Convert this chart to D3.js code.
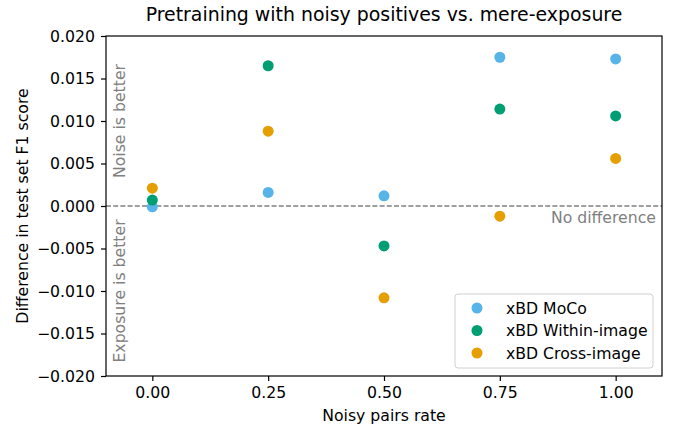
<!DOCTYPE html>
<html>
<head>
<meta charset="utf-8">
<script src="https://cdn.jsdelivr.net/npm/d3@7"></script>
<style>
  body { margin: 0; background: #fff; }
  text { font-family: "DejaVu Sans", sans-serif; }
</style>
</head>
<body>
<script>
const width = 677;
const height = 428;
const margin = {top: 36, right: 15, bottom: 52, left: 106};
const fs = "15.7px";

const rates = [0.0, 0.25, 0.5, 0.75, 1.0];
const seriesNames = ['xBD MoCo', 'xBD Within-image', 'xBD Cross-image'];
const colors = ['#56B4E9', '#009E73', '#E69F00'];
const mocoVals = [-0.0001, 0.0016, 0.0012, 0.0175, 0.0173];
const withinVals = [0.0007, 0.0165, -0.0047, 0.0114, 0.0106];
const crossVals = [0.0021, 0.0088, -0.0108, -0.0012, 0.0056];
const xTicks = [0.0, 0.25, 0.5, 0.75, 1.0];
const yTicks = [-0.020, -0.015, -0.010, -0.005, 0.000, 0.005, 0.010, 0.015, 0.020];

const allSeries = [mocoVals, withinVals, crossVals];

const x = d3.scaleLinear()
    .domain([-0.1, 1.1])
    .range([margin.left, width - margin.right]);

const y = d3.scaleLinear()
    .domain([-0.02, 0.02])
    .range([height - margin.bottom, margin.top]);

const svg = d3.select("body")
    .append("svg")
    .attr("width", width)
    .attr("height", height);

// zero line
svg.append("line")
    .attr("x1", x.range()[0])
    .attr("x2", x.range()[1])
    .attr("y1", y(0))
    .attr("y2", y(0))
    .style("stroke", "#808080")
    .style("stroke-width", 1.3)
    .style("stroke-dasharray", "5,2.2");

// points
allSeries.forEach((vals, i) => {
    svg.append("g")
        .selectAll("circle")
        .data(vals)
        .enter()
        .append("circle")
        .attr("cx", (d, j) => x(rates[j]))
        .attr("cy", d => y(d))
        .attr("r", 5.5)
        .style("fill", colors[i]);
});

// annotations
svg.append("text")
    .attr("transform", `translate(125,${y(0.01)}) rotate(-90)`)
    .attr("text-anchor", "middle")
    .style("font-size", fs)
    .style("fill", "#808080")
    .text("Noise is better");

svg.append("text")
    .attr("transform", `translate(125,${y(-0.01)}) rotate(-90)`)
    .attr("text-anchor", "middle")
    .style("font-size", fs)
    .style("fill", "#808080")
    .text("Exposure is better");

svg.append("text")
    .attr("x", 656)
    .attr("y", 223)
    .attr("text-anchor", "end")
    .style("font-size", fs)
    .style("fill", "#808080")
    .text("No difference");

// axes
const xAxis = d3.axisBottom(x)
    .tickValues(xTicks)
    .tickFormat(d3.format(".2f"))
    .tickSize(5)
    .tickPadding(6);

const yAxis = d3.axisLeft(y)
    .tickValues(yTicks)
    .tickFormat(d3.format(".3f"))
    .tickSize(5)
    .tickPadding(6);

svg.append("g")
    .attr("transform", `translate(0,${height - margin.bottom})`)
    .call(xAxis)
    .call(g => g.select(".domain").remove())
    .selectAll("text")
    .style("font-size", fs)
    .style("fill", "#000");

svg.append("g")
    .attr("transform", `translate(${margin.left},0)`)
    .call(yAxis)
    .call(g => g.select(".domain").remove())
    .selectAll("text")
    .style("font-size", fs)
    .style("fill", "#000");

svg.selectAll(".tick line").style("stroke", "#000").style("stroke-width", 1.2);

// frame
svg.append("rect")
    .attr("x", margin.left)
    .attr("y", margin.top)
    .attr("width", width - margin.left - margin.right)
    .attr("height", height - margin.top - margin.bottom)
    .style("fill", "none")
    .style("stroke", "#000")
    .style("stroke-width", 1.2);

// labels
svg.append("text")
    .attr("x", (margin.left + width - margin.right) / 2)
    .attr("y", 21)
    .attr("text-anchor", "middle")
    .style("font-size", "18.9px")
    .text("Pretraining with noisy positives vs. mere-exposure");

svg.append("text")
    .attr("x", (margin.left + width - margin.right) / 2)
    .attr("y", 421)
    .attr("text-anchor", "middle")
    .style("font-size", fs)
    .text("Noisy pairs rate");

svg.append("text")
    .attr("transform", `translate(28,${(margin.top + height - margin.bottom) / 2}) rotate(-90)`)
    .attr("text-anchor", "middle")
    .style("font-size", fs)
    .text("Difference in test set F1 score");

// legend
const legend = svg.append("g")
    .attr("transform", "translate(455,294)");

legend.append("rect")
    .attr("width", 198)
    .attr("height", 74)
    .attr("rx", 3)
    .style("fill", "#fff")
    .style("fill-opacity", 0.8)
    .style("stroke", "#d0d0d0")
    .style("stroke-width", 1);

seriesNames.forEach((name, i) => {
    const row = legend.append("g")
        .attr("transform", `translate(0,${14 + i * 22.5})`);
    row.append("circle")
        .attr("cx", 22)
        .attr("cy", 0)
        .attr("r", 5.5)
        .style("fill", colors[i]);
    row.append("text")
        .attr("x", 51)
        .attr("y", 0)
        .attr("dy", "0.35em")
        .style("font-size", fs)
        .text(name);
});
</script>
</body>
</html>
